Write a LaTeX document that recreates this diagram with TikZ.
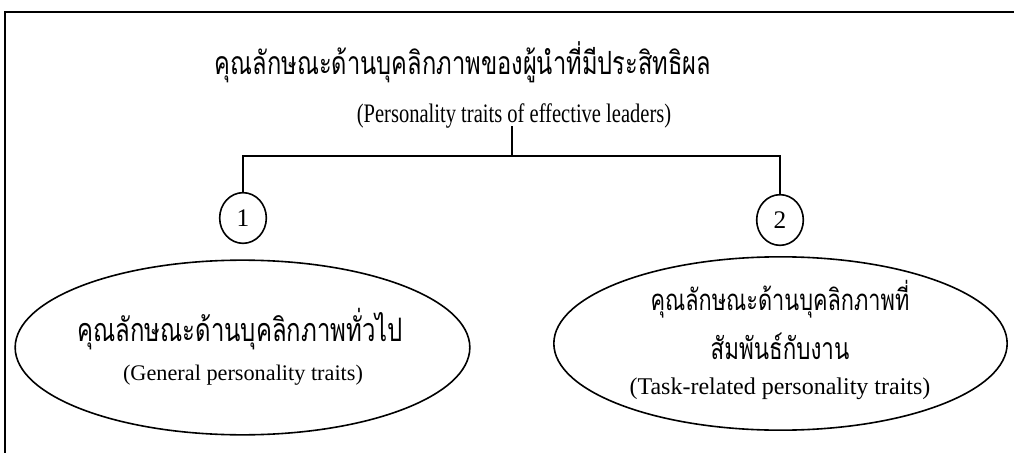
\documentclass[tikz,border=0pt]{standalone}
\usepackage{fontspec}
\setmainfont{Liberation Serif}
\newfontfamily\thai[Script=Thai]{Loma}
\usetikzlibrary{shapes.geometric}
\tikzset{
  conn/.style={line width=1.2pt},
  num/.style={draw, ellipse, line width=1.2pt, inner sep=0pt, minimum width=35pt, minimum height=38pt, font=\fontsize{19}{21}\selectfont},
  big/.style={draw, ellipse, line width=1.2pt, inner sep=0pt},
  txt/.style={inner sep=0pt, anchor=center},
}
\newcommand{\thaiw}[2]{\scalebox{1}[1.35]{\resizebox{#1}{!}{\thai #2}}}
\begin{document}
\begin{tikzpicture}[x=0.75pt,y=-0.75pt]
\useasboundingbox (0,0) rectangle (1014,453);
\draw[line width=1.4pt] (5,453) -- (5,12) -- (1014,12);
\node[txt] (title) at (463,62) {\thaiw{372pt}{คุณลักษณะด้านบุคลิกภาพของผู้นำที่มีประสิทธิผล}};
\node[txt,font=\fontsize{15.4}{17}\selectfont] (sub) at (514,116) {\scalebox{1}[1.3]{(Personality traits of effective leaders)}};
\coordinate (j) at (512,156);
\coordinate (jt) at (512,126);
\node[num] (c1) at (243,218) {1};
\node[num] (c2) at (780,220) {2};
\node[big, minimum width=341pt, minimum height=131pt] (e1) at (242.5,347.5) {};
\node[big, minimum width=340pt, minimum height=130pt] (e2) at (780.5,343.5) {};
\draw[conn] (jt) -- (j);
\draw[conn] (c1.north) |- (j) -| (c2.north);
\node[txt] (t1) at (240,329) {\thaiw{244pt}{คุณลักษณะด้านบุคลิกภาพทั่วไป}};
\node[txt,font=\fontsize{16.7}{19}\selectfont] (g1) at (243,375) {(General personality traits)};
\node[txt] (t2a) at (780,299) {\thaiw{194pt}{คุณลักษณะด้านบุคลิกภาพที่}};
\node[txt] (t2b) at (780,346) {\thaiw{104pt}{สัมพันธ์กับงาน}};
\node[txt,font=\fontsize{18}{20}\selectfont] (g2) at (780,389) {(Task-related personality traits)};
\end{tikzpicture}
\end{document}
